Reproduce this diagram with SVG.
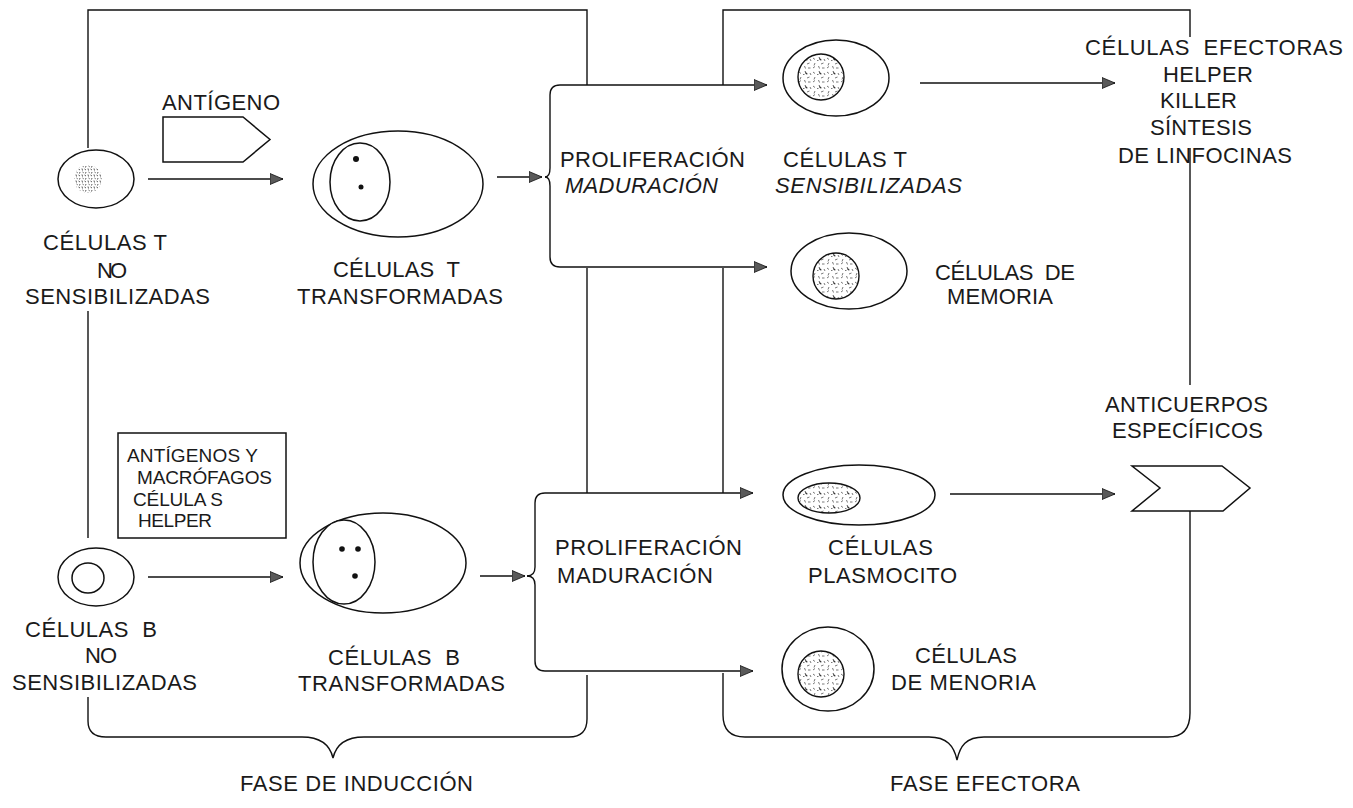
<svg xmlns="http://www.w3.org/2000/svg" width="1353" height="808" viewBox="0 0 1353 808">
  <defs>
    <style>
      .ln { fill: none; stroke: #111111; stroke-width: 1.4; }
      .cell { fill: #ffffff; stroke: #111111; stroke-width: 1.5; }
      .nuc { fill: url(#speckle); stroke: #111111; stroke-width: 1.4; }
      .dot { fill: #111111; }
      .arr { fill: none; stroke: #111111; stroke-width: 1.4; marker-end: url(#head); }
      text { font-family: "Liberation Sans", Arial, sans-serif; font-size: 22px; fill: #1a1a1a; }
      .it { font-style: italic; }
      .sm { font-size: 19px; }
    </style>
    <!-- sparse chromatin squiggles used inside the nuclei -->
    <pattern id="speckle" width="14" height="14" patternUnits="userSpaceOnUse">
      <rect width="14" height="14" fill="#ffffff"/>
      <path d="M1,2 l2,1.5 M7,1 l1,3 l1.5,0 M3,7 l-1,2.5 M9,8 l2.5,-1 M5,4.5 h1.5 M12,3 l1,2 M1,12 l2,-1.5 M6.5,10 l1,2.5 M10,12 h2.5" stroke="#555555" stroke-width="0.8"/>
    </pattern>
    <!-- denser texture for the small unstimulated T nucleus -->
    <pattern id="speckle-dense" width="6" height="6" patternUnits="userSpaceOnUse">
      <rect width="6" height="6" fill="#ffffff"/>
      <path d="M0.5,1 l1.5,1 M4,0.5 l0.5,2 M2,4 l-0.5,1.5 M4.5,4 l1.2,0.8" stroke="#444444" stroke-width="0.9"/>
    </pattern>
    <marker id="head" markerWidth="13" markerHeight="12" refX="13" refY="6" orient="auto" markerUnits="userSpaceOnUse">
      <path d="M0,0.5 L13,6 L0,11.5 Z" fill="#5a5a5a" stroke="#111111" stroke-width="0.8"/>
    </marker>
  </defs>

  <rect width="1353" height="808" fill="#ffffff"/>

  <!-- connectors: phase frames, branching braces and arrows -->
  <g id="connectors">
    <!-- induction phase frame -->
    <path class="ln" d="M88,148 V10 H587 V85"/>
    <path class="ln" d="M88,311 V538"/>
    <path class="ln" d="M587,268 V493"/>
    <path class="ln" d="M88,697 V721 Q88,737 106,737 H302 C321,737 330,745 333,758 C336,745 345,737 364,737 H569 Q587,737 587,719 V675"/>
    <!-- effector phase frame -->
    <path class="ln" d="M723,85 V10 H1190 V37"/>
    <path class="ln" d="M1190,148 V385"/>
    <path class="ln" d="M723,268 V493"/>
    <path class="ln" d="M1190,511 V713 Q1190,737 1168,737 H984 C966,737 960,746 957,760 C954,746 947,737 929,737 H745 Q723,737 723,715 V673"/>

    <!-- T line -->
    <path class="arr" d="M148,179 H283"/>
    <path class="arr" d="M497,177 H542"/>
    <path class="arr" d="M545,177 Q550,177 550,168 V95 Q550,85 560,85 H767"/>
    <path class="arr" d="M545,177 Q550,177 550,186 V257 Q550,267 560,267 H767"/>
    <path class="arr" d="M920,83 H1115"/>

    <!-- B line -->
    <path class="arr" d="M148,577 H283"/>
    <path class="arr" d="M480,576 H525"/>
    <path class="arr" d="M527,576 Q535,576 535,567 V503 Q535,493 545,493 H753"/>
    <path class="arr" d="M527,576 Q535,576 535,585 V661 Q535,671 545,671 H753"/>
    <path class="arr" d="M950,494 H1115"/>
  </g>

  <!-- unsensitized T cell -->
  <g id="t-naive">
    <ellipse class="cell" cx="96" cy="179" rx="38" ry="29"/>
    <circle cx="88" cy="179" r="14" fill="url(#speckle-dense)"/>
    <text x="43" y="250" textLength="124">CÉLULAS T</text>
    <text x="97" y="278" textLength="30">NO</text>
    <text x="25" y="304" textLength="185">SENSIBILIZADAS</text>
  </g>

  <!-- antigen tag -->
  <g id="antigen">
    <polygon class="cell" points="163,117 243,117 270,139.5 243,162 163,162"/>
    <text x="162" y="110" textLength="118">ANTÍGENO</text>
  </g>

  <!-- transformed T cell -->
  <g id="t-transformed">
    <ellipse class="cell" cx="398" cy="184" rx="85" ry="53"/>
    <ellipse class="cell" cx="360" cy="182" rx="30" ry="39"/>
    <circle class="dot" cx="356" cy="159" r="3"/>
    <circle class="dot" cx="361" cy="187" r="2.5"/>
    <text x="333" y="277" textLength="127" xml:space="preserve">CÉLULAS  T</text>
    <text x="297" y="304" textLength="206">TRANSFORMADAS</text>
  </g>

  <!-- T proliferation step -->
  <g id="t-proliferation">
    <text x="560" y="167" textLength="185">PROLIFERACIÓN</text>
    <text class="it" x="565" y="193" textLength="153">MADURACIÓN</text>
  </g>

  <!-- sensitized T cell -->
  <g id="t-sensitized">
    <ellipse class="cell" cx="836" cy="78" rx="53" ry="38"/>
    <circle class="nuc" cx="821" cy="77" r="23"/>
    <text x="783" y="167" textLength="124">CÉLULAS T</text>
    <text class="it" x="775" y="193" textLength="187">SENSIBILIZADAS</text>
  </g>

  <!-- T memory cell -->
  <g id="t-memory">
    <ellipse class="cell" cx="849" cy="271" rx="58" ry="38"/>
    <circle class="nuc" cx="836" cy="276" r="23"/>
    <text x="935" y="280" textLength="140" xml:space="preserve">CÉLULAS  DE</text>
    <text x="947" y="304" textLength="106">MEMORIA</text>
  </g>

  <!-- effector T cells -->
  <g id="t-effector">
    <text x="1085" y="55" textLength="258" xml:space="preserve">CÉLULAS  EFECTORAS</text>
    <text x="1163" y="82" textLength="90">HELPER</text>
    <text x="1160" y="108" textLength="77">KILLER</text>
    <text x="1150" y="135" textLength="102">SÍNTESIS</text>
    <text x="1118" y="163" textLength="174">DE LINFOCINAS</text>
  </g>

  <!-- antigen / macrophage / helper box -->
  <g id="b-activators">
    <rect class="cell" x="118" y="433" width="168" height="105"/>
    <text class="sm" x="127" y="462" textLength="131">ANTÍGENOS Y</text>
    <text class="sm" x="137" y="484" textLength="135">MACRÓFAGOS</text>
    <text class="sm" x="133" y="506" textLength="90">CÉLULA S</text>
    <text class="sm" x="138" y="527" textLength="74">HELPER</text>
  </g>

  <!-- unsensitized B cell -->
  <g id="b-naive">
    <ellipse class="cell" cx="96" cy="577" rx="38" ry="29"/>
    <ellipse class="cell" cx="88" cy="578" rx="16" ry="15"/>
    <text x="25" y="637" textLength="132" xml:space="preserve">CÉLULAS  B</text>
    <text x="85" y="663" textLength="32">NO</text>
    <text x="12" y="690" textLength="185">SENSIBILIZADAS</text>
  </g>

  <!-- transformed B cell -->
  <g id="b-transformed">
    <ellipse class="cell" cx="383" cy="563" rx="83" ry="50"/>
    <ellipse class="cell" cx="344" cy="562" rx="31" ry="42"/>
    <circle class="dot" cx="342" cy="549" r="2.8"/>
    <circle class="dot" cx="358" cy="549" r="2.8"/>
    <circle class="dot" cx="355" cy="576" r="2.8"/>
    <text x="328" y="665" textLength="132" xml:space="preserve">CÉLULAS  B</text>
    <text x="298" y="691" textLength="207">TRANSFORMADAS</text>
  </g>

  <!-- B proliferation step -->
  <g id="b-proliferation">
    <text x="555" y="555" textLength="187">PROLIFERACIÓN</text>
    <text x="557" y="583" textLength="156">MADURACIÓN</text>
  </g>

  <!-- plasma cell -->
  <g id="b-plasma">
    <ellipse class="cell" cx="859" cy="495" rx="76" ry="30"/>
    <ellipse class="nuc" cx="829" cy="498" rx="31" ry="15"/>
    <text x="828" y="555" textLength="105">CÉLULAS</text>
    <text x="808" y="583" textLength="149">PLASMOCITO</text>
  </g>

  <!-- B memory cell -->
  <g id="b-memory">
    <ellipse class="cell" cx="828" cy="669" rx="46" ry="42"/>
    <circle class="nuc" cx="821" cy="674" r="23"/>
    <text x="915" y="663" textLength="102">CÉLULAS</text>
    <text x="891" y="690" textLength="145">DE MENORIA</text>
  </g>

  <!-- specific antibodies -->
  <g id="antibodies">
    <polygon class="cell" points="1132,466 1222,466 1250,488 1223,511 1132,511 1160,488"/>
    <text x="1105" y="412" textLength="163">ANTICUERPOS</text>
    <text x="1112" y="438" textLength="151">ESPECÍFICOS</text>
  </g>

  <!-- phase captions -->
  <g id="phase-induction">
    <text x="240" y="791" textLength="233">FASE DE INDUCCIÓN</text>
  </g>
  <g id="phase-effector">
    <text x="890" y="791" textLength="190">FASE EFECTORA</text>
  </g>
</svg>
